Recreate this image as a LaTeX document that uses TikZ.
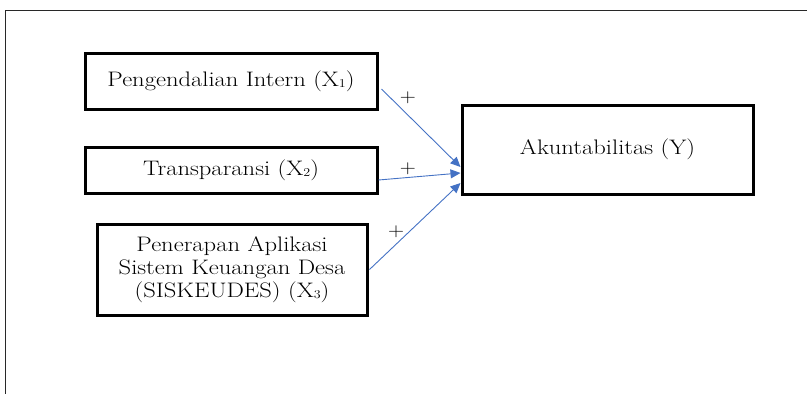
\documentclass[tikz,border=0pt]{standalone}
\usepackage{fontspec}
\setmainfont{Latin Modern Roman}[FakeStretch=1.17]
\usetikzlibrary{arrows.meta}
\definecolor{arrblue}{RGB}{68,114,196}
\definecolor{framegray}{RGB}{40,40,40}
\newcommand{\subsc}[1]{\raisebox{-0.15ex}{\fontsize{12}{12}\selectfont #1}}
\begin{document}
\begin{tikzpicture}[x=1pt,y=-1pt,
  box/.style={draw,line width=3.0pt,minimum width=#1,inner sep=0pt,align=center,font=\fontsize{21}{23}\selectfont},
  arr/.style={draw=arrblue,line width=0.9pt,-{Triangle[length=10pt,width=9pt]}},
  plus/.style={font=\fontsize{19}{19}\selectfont}]
\useasboundingbox (0,0) rectangle (807,394);
\draw[framegray,line width=0.9pt] (5,394) -- (5,10) -- (807,10);
\node[box=292pt,minimum height=56pt] (b1) at (231,81) {Pengendalian Intern (X\subsc{1})};
\node[box=292pt,minimum height=46pt] (b2) at (231,170) {Transparansi (X\subsc{2})};
\node[box=270pt,minimum height=91pt] (b3) at (232,269.5) {Penerapan Aplikasi\\Sistem Keuangan Desa\\(SISKEUDES) (X\subsc{3})};
\node[box=291pt,minimum height=89pt] (y) at (607.5,149.5) {Akuntabilitas (Y)};
\draw[arr] ([xshift=3pt,yshift=-8pt]b1.east) -- ([yshift=-17.5pt]y.west);
\draw[arr] ([yshift=-10pt]b2.east) -- ([yshift=-23.5pt]y.west);
\draw[arr] ([xshift=1pt]b3.east) -- ([yshift=-33.5pt]y.west);
\node[plus] (p1) at (408,98) {+};
\node[plus] (p2) at (408,169) {+};
\node[plus] (p3) at (396,232) {+};
\end{tikzpicture}
\end{document}
